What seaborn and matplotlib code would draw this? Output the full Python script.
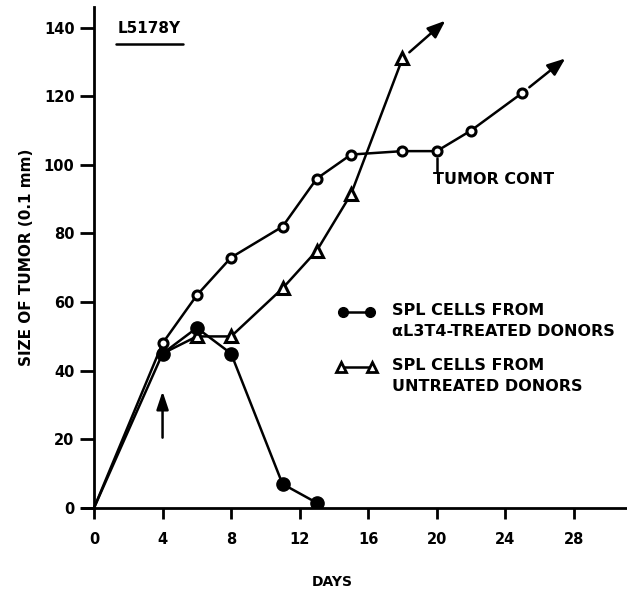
import matplotlib
matplotlib.use("Agg")
import matplotlib.pyplot as plt
import seaborn as sns

# ---- data ----
cont_days = [0, 4, 6, 8, 11, 13, 15, 18, 20, 22, 25]
cont_size = [0, 48, 62, 73, 82, 96, 103, 104, 104, 110, 121]
cont_arrow_end = (27.5, 131)

treated_days = [0, 4, 6, 8, 11, 13]
treated_size = [0, 45, 52.5, 45, 7, 1.5]

untreated_days = [4, 6, 8, 11, 13, 15, 18]
untreated_size = [45, 50, 50, 64, 75, 91.5, 131]
untreated_arrow_end = (20.5, 142)

x_ticks = [0, 4, 8, 12, 16, 20, 24, 28]
y_ticks = [0, 20, 40, 60, 80, 100, 120, 140]

sns.set_theme(style="white")
plt.rcParams['font.family'] = ['DejaVu Sans']
plt.rcParams['font.weight'] = 'bold'
for k in ['text.color', 'axes.labelcolor', 'xtick.color', 'ytick.color']:
    plt.rcParams[k] = 'black'

W, H = 627, 590
fig = plt.figure(figsize=(W / 100, H / 100), dpi=100)
ax = fig.add_axes([82 / W, (H - 508) / H, 545 / W, 501 / H])

lw = 1.8
sns.lineplot(x=cont_days, y=cont_size, ax=ax, color='black', lw=lw,
             estimator=None, sort=False)
sns.lineplot(x=treated_days, y=treated_size, ax=ax, color='black', lw=lw,
             estimator=None, sort=False)
sns.lineplot(x=untreated_days, y=untreated_size, ax=ax, color='black', lw=lw,
             estimator=None, sort=False)

ax.plot(cont_days[1:], cont_size[1:], ls='none', marker='o', ms=6.5,
        mfc='white', mec='black', mew=2.2, zorder=5)
ax.plot(untreated_days[1:], untreated_size[1:], ls='none', marker='^', ms=8.5,
        mfc='white', mec='black', mew=2.2, zorder=6)
ax.plot(treated_days[1:], treated_size[1:], ls='none', marker='o', ms=9.5,
        mfc='black', mec='black', zorder=7)

arrow_style = dict(arrowstyle='-|>,head_length=0.9,head_width=0.35',
                   color='black', lw=lw, shrinkA=0, shrinkB=0)
ax.annotate('', xy=cont_arrow_end, xytext=(cont_days[-1] + 0.4, cont_size[-1] + 1.6),
            arrowprops=arrow_style)
ax.annotate('', xy=untreated_arrow_end,
            xytext=(untreated_days[-1] + 0.4, untreated_size[-1] + 1.8),
            arrowprops=arrow_style)
ax.annotate('', xy=(4, 34), xytext=(4, 20.5),
            arrowprops=dict(arrowstyle='-|>,head_length=0.9,head_width=0.3',
                            color='black', lw=lw, shrinkA=0, shrinkB=0))

# TUMOR CONT label
ax.plot([20, 20], [102, 98], color='black', lw=lw)
ax.text(19.8, 95.6, 'TUMOR CONT', fontsize=11.5, fontweight='bold',
        ha='left', va='center')

# L5178Y label
ax.text(1.4, 139.6, 'L5178Y', fontsize=11, fontweight='bold', ha='left', va='center')
ax.plot([1.3, 5.2], [135.3, 135.3], color='black', lw=1.8)

# legend (hand-drawn as in original)
fs_leg = 11.5
ax.plot([14.5, 16.1], [57.0, 57.0], color='black', lw=lw)
ax.plot([14.5, 16.1], [57.0, 57.0], ls='none', marker='o', ms=7, mfc='black', mec='black')
ax.text(17.4, 57.6, 'SPL CELLS FROM', fontsize=fs_leg, fontweight='bold', ha='left', va='center')
ax.text(17.4, 51.5, 'αL3T4-TREATED DONORS', fontsize=fs_leg, fontweight='bold', ha='left', va='center')

ax.plot([14.4, 16.2], [41.0, 41.0], color='black', lw=lw)
ax.plot([14.4, 16.2], [41.0, 41.0], ls='none', marker='^', ms=6.5, mfc='white',
        mec='black', mew=2)
ax.text(17.4, 41.4, 'SPL CELLS FROM', fontsize=fs_leg, fontweight='bold', ha='left', va='center')
ax.text(17.4, 35.3, 'UNTREATED DONORS', fontsize=fs_leg, fontweight='bold', ha='left', va='center')

# axes styling
ax.set_xlim(-0.7, 31.1)
ax.set_ylim(0, 146)
ax.spines['left'].set_position(('data', 0))
for s in ['top', 'right']:
    ax.spines[s].set_visible(False)
for s in ['left', 'bottom']:
    ax.spines[s].set_color('black')
    ax.spines[s].set_linewidth(2)
ax.set_xticks(x_ticks)
ax.set_yticks(y_ticks)
ax.set_xticklabels([str(t) for t in x_ticks], fontsize=10.5, fontweight='bold')
ax.set_yticklabels([str(t) for t in y_ticks], fontsize=10.5, fontweight='bold')
ax.tick_params(axis='y', direction='out', length=10, width=2, color='black', pad=4, left=True)
ax.tick_params(axis='x', direction='out', length=8, width=2, color='black', pad=9, bottom=True)
ax.set_ylabel('SIZE OF TUMOR (0.1 mm)', fontsize=11, fontweight='bold', labelpad=7)
fig.text(332 / W, 1 - 582 / H, 'DAYS', fontsize=10, fontweight='bold', ha='center', va='center')
ax.grid(False)

fig.savefig('out.png', dpi=100)
